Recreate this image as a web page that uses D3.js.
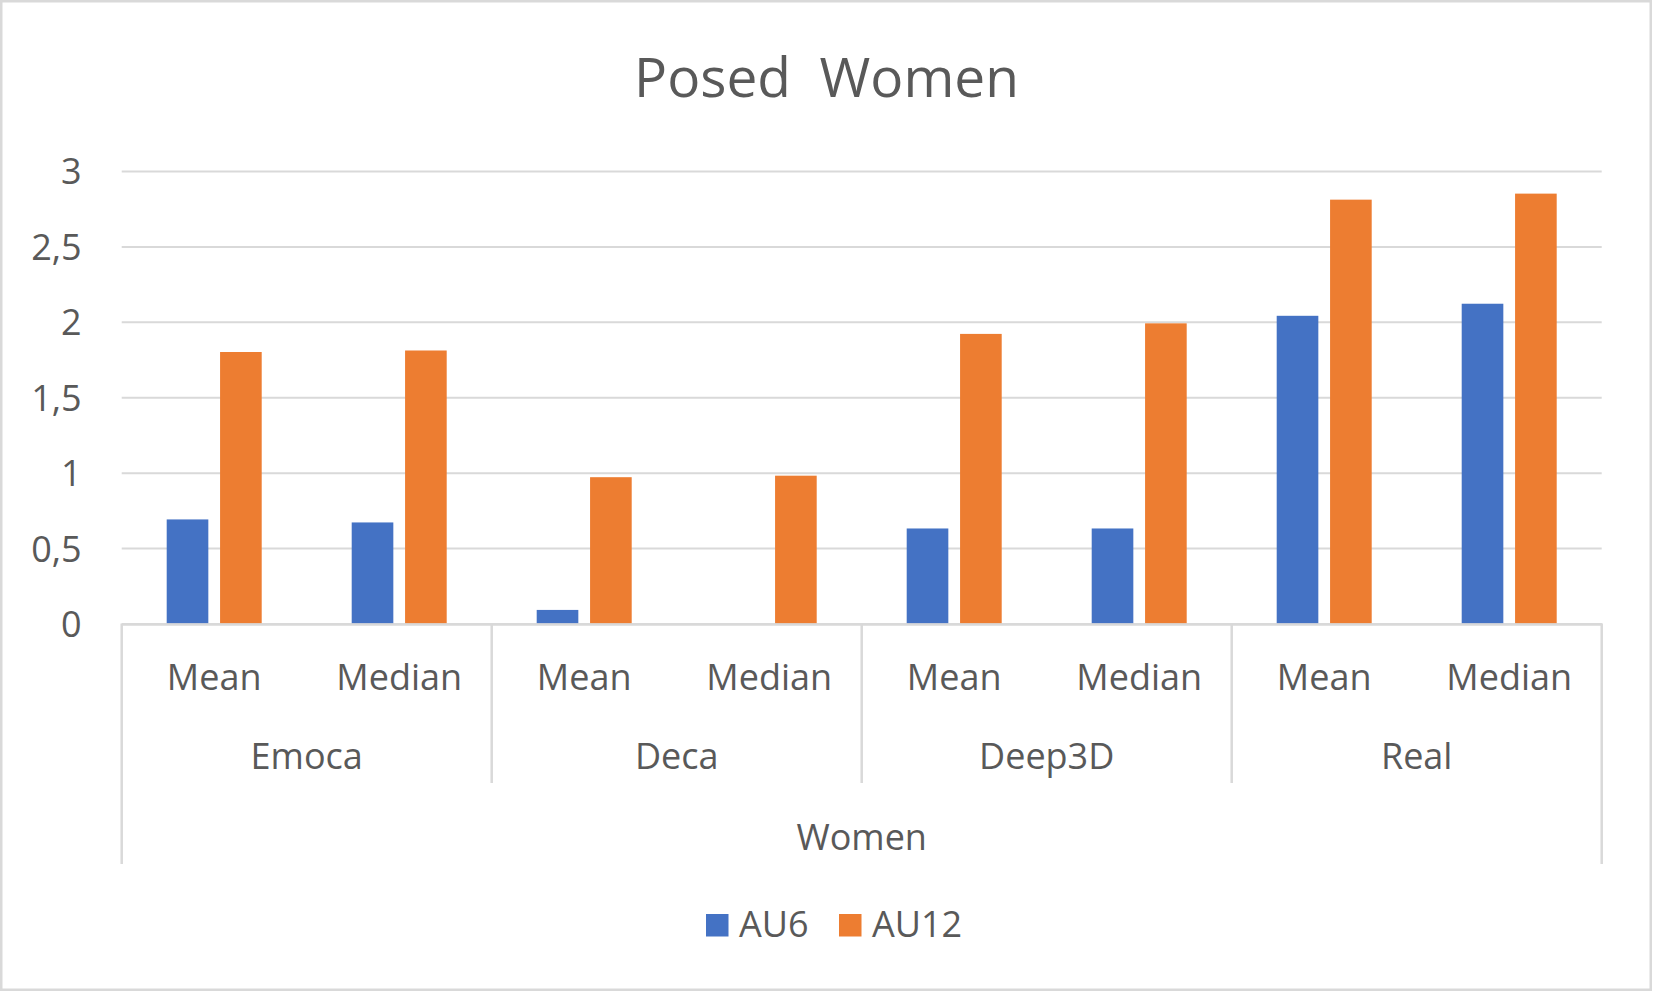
<!DOCTYPE html>
<html>
<head>
<meta charset="utf-8">
<script src="https://cdn.jsdelivr.net/npm/d3@7"></script>
<style>
  html, body { margin: 0; padding: 0; background: #fff; }
  svg text { font-family: "Open Sans", sans-serif; fill: #595959; }
</style>
</head>
<body>
<svg id="chart" width="1653" height="993"></svg>
<script>
// values
var groups = ["Emoca", "Deca", "Deep3D", "Real"];
var stats = ["Mean", "Median"];
var series = ["AU6", "AU12"];
var colors = ["#4472C4", "#ED7D31"];
var au6 = [0.69, 0.67, 0.09, 0, 0.63, 0.63, 2.04, 2.12];
var au12 = [1.80, 1.81, 0.97, 0.98, 1.92, 1.99, 2.81, 2.85];
var yTicks = [0, 0.5, 1, 1.5, 2, 2.5, 3];

var W = 1653, H = 993;
// careful: "top" is window.top, so use other names
var plotL = 121.7, plotR = 1601.7, plotT = 171, base = 623.5;

var svg = d3.select("#chart");

// chart frame
svg.append("rect")
    .attr("x", 1.25).attr("y", 1.25)
    .attr("width", W - 3.5).attr("height", H - 4.5)
    .attr("fill", "#fff")
    .attr("stroke", "#d9d9d9")
    .attr("stroke-width", 2.5);

// one key per leaf category, e.g. "Emoca|Mean"
var cats = [];
groups.forEach(function(g) {
  stats.forEach(function(s) { cats.push(g + "|" + s); });
});

var x0 = d3.scaleBand().domain(cats).range([plotL, plotR]);
var x1 = d3.scaleBand().domain(series)
    .range([45, 140]).paddingInner(0.22);
var xg = d3.scaleBand().domain(groups).range([plotL, plotR]);
var y = d3.scaleLinear().domain([0, 3]).range([base, plotT]);

var comma = d3.formatLocale({decimal: ",", thousands: ".", grouping: [3], currency: ["", ""]}).format("~g");

// y axis + gridlines
var ya = svg.append("g")
    .attr("transform", "translate(" + plotL + ",0)")
    .call(d3.axisLeft(y).tickValues(yTicks)
      .tickSize(-(plotR - plotL)).tickPadding(40).tickFormat(comma));
ya.select(".domain").remove();
ya.selectAll(".tick line")
    .attr("stroke", "#d9d9d9").attr("stroke-width", 2);
ya.selectAll(".tick text")
    .attr("font-size", 36).attr("dy", "0.36em");

// bars
var rows = cats.map(function(c, i) {
  return {cat: c, vals: [au6[i], au12[i]]};
});
var cat = svg.append("g").selectAll("g")
    .data(rows)
    .enter().append("g")
    .attr("transform", function(d) { return "translate(" + x0(d.cat) + ",0)"; });
cat.selectAll("rect")
    .data(function(d) {
      return d.vals.map(function(v, j) { return {s: series[j], v: v, c: colors[j]}; });
    })
    .enter().append("rect")
    .attr("x", function(d) { return x1(d.s); })
    .attr("width", x1.bandwidth())
    .attr("y", function(d) { return y(d.v); })
    .attr("height", function(d) { return base - y(d.v); })
    .attr("fill", function(d) { return d.c; });

// x axis, first level (Mean / Median)
var xa = svg.append("g")
    .attr("transform", "translate(0," + (base + 0.5) + ")")
    .call(d3.axisBottom(x0).tickSize(0).tickPadding(40)
      .tickFormat(function(d) { return d.split("|")[1]; }));
xa.select(".domain")
    .attr("stroke", "#d9d9d9").attr("stroke-width", 2.5);
xa.selectAll(".tick text").attr("font-size", 36);

// group dividers
var edges = groups.map(function(g) { return xg(g); }).concat([plotR]);
svg.append("g").selectAll("line")
    .data(edges)
    .enter().append("line")
    .attr("x1", function(d) { return d; })
    .attr("x2", function(d) { return d; })
    .attr("y1", base)
    .attr("y2", function(d, i) { return (i === 0 || i === edges.length - 1) ? 864 : 783; })
    .attr("stroke", "#d9d9d9").attr("stroke-width", 2.5);

// second level (model)
svg.append("g").selectAll("text")
    .data(groups)
    .enter().append("text")
    .attr("x", function(g) { return xg(g) + xg.bandwidth() / 2; })
    .attr("y", 769)
    .attr("text-anchor", "middle")
    .attr("font-size", 36)
    .text(function(g) { return g; });

// third level
svg.append("text")
    .attr("x", (plotL + plotR) / 2).attr("y", 850)
    .attr("text-anchor", "middle")
    .attr("font-size", 36)
    .text("Women");

// title
svg.append("text")
    .attr("x", W / 2).attr("y", 97)
    .attr("text-anchor", "middle")
    .attr("font-size", 55)
    .style("white-space", "pre")
    .text("Posed  Women");

// legend
var legX = [706, 839];
var leg = svg.append("g").selectAll("g")
    .data(series)
    .enter().append("g")
    .attr("transform", function(d, i) { return "translate(" + legX[i] + ",914)"; });
leg.append("rect")
    .attr("width", 22.5).attr("height", 22.5)
    .attr("fill", function(d, i) { return colors[i]; });
leg.append("text")
    .attr("x", 33).attr("y", 22.5)
    .attr("font-size", 36)
    .text(function(d) { return d; });
</script>
</body>
</html>
